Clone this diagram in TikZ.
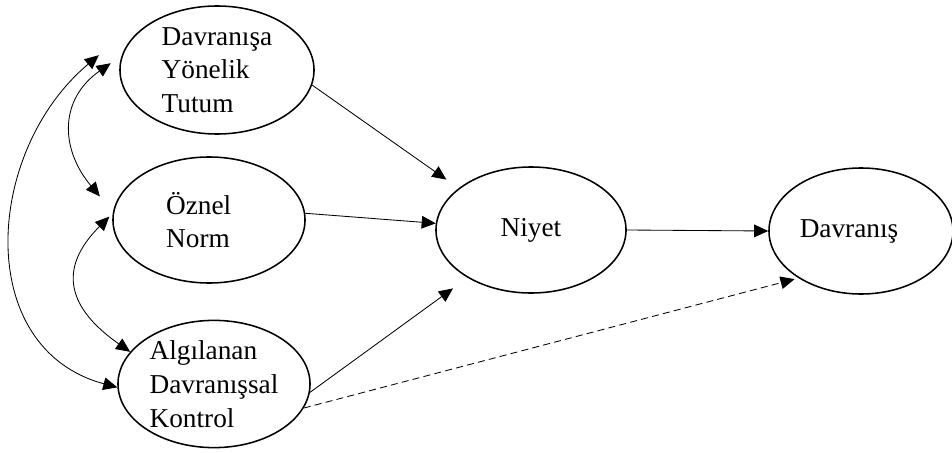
\documentclass[tikz,border=0pt]{standalone}
\usepackage{fontspec}
\setmainfont{Liberation Serif}
\usepackage{tikz}
\usetikzlibrary{shapes,arrows.meta,positioning}

\begin{document}
\begin{tikzpicture}[x=0.025cm,y=-0.025cm,
	oval/.style={shape=ellipse,draw,line width=1.1pt,inner sep=0pt,align=left,
		font=\fontsize{19.4}{24}\selectfont},
	ok/.style={line width=0.6pt,-{Triangle[length=10pt,width=9pt]}},
	cift/.style={line width=0.6pt,{Triangle[length=10pt,width=9pt]}-{Triangle[length=10pt,width=9pt]}}]
	\useasboundingbox (0,0) rectangle (952,453);

	\node[oval,minimum width=4.85cm,minimum height=3.2cm] (tutum) at (217,70) {Davranışa\\Yönelik\\Tutum};
	\node[oval,minimum width=4.8cm,minimum height=3.15cm] (norm) at (209,220) {Öznel\\Norm\hspace*{0.55cm}};
	\node[oval,minimum width=4.8cm,minimum height=3.18cm] (kontrol) at (214,384) {Algılanan\\Davranışsal\\Kontrol};
	\node[oval,minimum width=4.75cm,minimum height=3.15cm] (niyet) at (531,230) {Niyet};
	\node[oval,minimum width=4.6cm,minimum height=3.15cm] (davranis) at (861,231) {Davranış\hspace*{0.6cm}};

	\path [ok] (tutum.351) edge[shorten >=0.375cm] (niyet.150);
	\path [ok] (norm.4) edge (niyet.176);
	\path [ok] (kontrol.355) edge[shorten >=0.45cm] (niyet.217);
	\path [ok] (niyet.east) edge (davranis.west);
	\path [ok] (kontrol.345) edge[dash pattern=on 5pt off 3pt,shorten >=0.1cm] (davranis.217);

	\path [cift] ([shift={(-9,0)}]tutum.176) edge[out=215,in=130,looseness=1.2] ([shift={(-17,-4)}]norm.168);
	\path [cift] ([shift={(-3,0)}]norm.178) edge[out=225,in=145,looseness=1.4] (kontrol.159);
	\path [cift] ([shift={(-22,-3)}]tutum.173) edge[out=220,in=165,looseness=1.15] (kontrol.182);
\end{tikzpicture}
\end{document}
